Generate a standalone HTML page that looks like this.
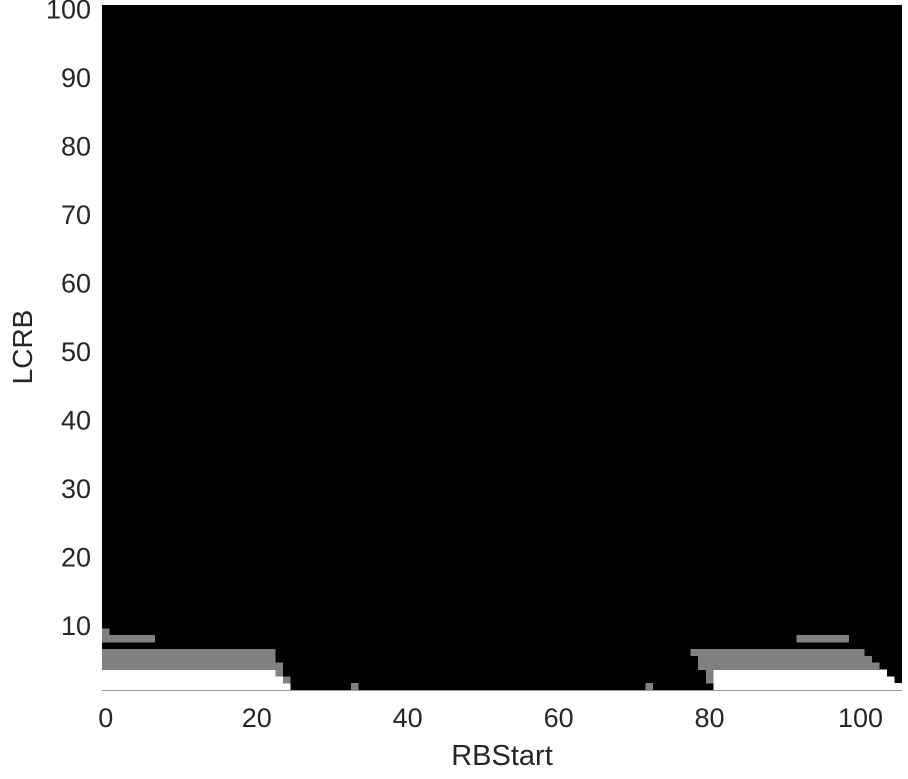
<!DOCTYPE html>
<html><head><meta charset="utf-8"><style>
html,body{margin:0;padding:0;background:#fff;}
svg text{font-family:"Liberation Sans",Arial,sans-serif;fill:#262626;}
</style></head><body>
<svg id="chart" width="908" height="774" xmlns="http://www.w3.org/2000/svg">
<g id="cells"></g>
<g id="axes"></g>
</svg>
<script>
// grid size
const nCols = 106;   // RBStart 0..105
const nRows = 100;   // LCRB 1..100
// non-black runs: row (LCRB), start col, end col, value (1=grey, 2=white)
const runRows   = [1, 1, 1, 1, 2, 2, 2, 2, 3, 3, 3, 3, 4, 4, 5, 5, 6, 6, 8, 8, 9];
const runStart  = [0, 33, 72, 81, 0, 24, 80, 81, 0, 23, 80, 81, 0, 79, 0, 79, 0, 78, 0, 92, 0];
const runEnd    = [24, 33, 72, 105, 23, 24, 80, 104, 22, 23, 80, 103, 23, 102, 22, 101, 22, 100, 6, 98, 0];
const runValue  = [2, 1, 1, 2, 2, 1, 1, 2, 2, 1, 1, 2, 1, 1, 1, 1, 1, 1, 1, 1, 1];
const xTicks = [0, 20, 40, 60, 80, 100];
const yTicks = [10, 20, 30, 40, 50, 60, 70, 80, 90, 100];

const L = 102, R = 902, T = 5, B = 690;
const cw = (R - L) / nCols, rh = (B - T) / nRows;
const xScale = v => L + (v + 0.5) * cw;       // center of column v
const yScale = v => B - (v - 0.5) * rh;       // center of row v
const colors = ['#000000', '#808080', '#ffffff'];
const NS = 'http://www.w3.org/2000/svg';
const cells = document.getElementById('cells');
const axes = document.getElementById('axes');

const bg = document.createElementNS(NS, 'rect');


bg.setAttribute('x', L); bg.setAttribute('y', T);
bg.setAttribute('width', R - L); bg.setAttribute('height', B - T);
bg.setAttribute('fill', colors[0]);
cells.appendChild(bg);

for (let i = 0; i < runRows.length; i++) {
  const r = document.createElementNS(NS, 'rect');
  
  
  const x0 = xScale(runStart[i]) - cw / 2, x1 = xScale(runEnd[i]) + cw / 2;
  const y0 = yScale(runRows[i]) - rh / 2;
  r.setAttribute('x', x0); r.setAttribute('y', y0);
  r.setAttribute('width', x1 - x0); r.setAttribute('height', rh + 0.3);
  r.setAttribute('fill', colors[runValue[i]]);
  r.setAttribute('shape-rendering', 'crispEdges');
  cells.appendChild(r);
}

const ax = document.createElementNS(NS, 'line');


ax.setAttribute('x1', L); ax.setAttribute('x2', R);
ax.setAttribute('y1', B + 0.5); ax.setAttribute('y2', B + 0.5);
ax.setAttribute('stroke', '#999'); ax.setAttribute('stroke-width', 1);
axes.appendChild(ax);

xTicks.forEach(v => {
  const t = document.createElementNS(NS, 'text');
  
  
  t.setAttribute('x', xScale(v)); t.setAttribute('y', 727);
  t.setAttribute('text-anchor', 'middle'); t.setAttribute('font-size', '27');
  t.textContent = v;
  axes.appendChild(t);
});
yTicks.forEach(v => {
  const t = document.createElementNS(NS, 'text');
  
  
  t.setAttribute('x', 91); t.setAttribute('y', yScale(v) + 10);
  t.setAttribute('text-anchor', 'end'); t.setAttribute('font-size', '27');
  t.textContent = v;
  axes.appendChild(t);
});
const xt = document.createElementNS(NS, 'text');


xt.setAttribute('x', 502); xt.setAttribute('y', 765);
xt.setAttribute('text-anchor', 'middle'); xt.setAttribute('font-size', '29');
xt.textContent = 'RBStart';
axes.appendChild(xt);
const yt = document.createElementNS(NS, 'text');


yt.setAttribute('x', 0); yt.setAttribute('y', 0);
yt.setAttribute('transform', 'translate(32,347) rotate(-90)');
yt.setAttribute('text-anchor', 'middle'); yt.setAttribute('font-size', '28');
yt.textContent = 'LCRB';
axes.appendChild(yt);
</script>
</body></html>
